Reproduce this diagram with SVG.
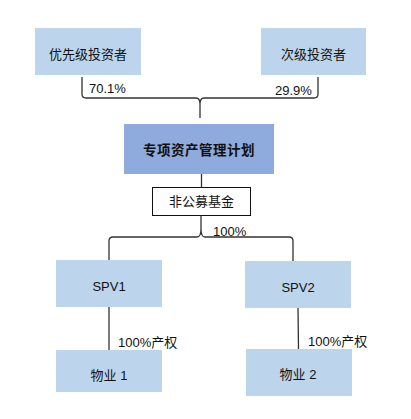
<svg xmlns="http://www.w3.org/2000/svg" width="411" height="419" viewBox="0 0 411 419">
<style>
text{font-family:"Liberation Sans","Noto Sans CJK SC",sans-serif;font-size:13px;fill:#111}
.c{text-anchor:middle}
.lb{fill:#BDD5EC}
.conn{fill:none;stroke:#333;stroke-width:1.3}
</style>
<rect width="411" height="419" fill="#fff"/>
<g id="senior"><rect class="lb" x="35" y="28" width="106" height="47"/><text class="c" x="88" y="59">优先级投资者</text></g>
<g id="junior"><rect class="lb" x="261" y="28" width="105" height="47"/><text class="c" x="313.5" y="59">次级投资者</text></g>
<g id="plan"><rect x="124" y="124" width="150" height="50" fill="#8FAADC"/><text class="c" x="199" y="155" style="font-weight:bold;font-size:13.5px;letter-spacing:0.5px">专项资产管理计划</text></g>
<g id="fund"><rect x="152.5" y="187.5" width="98" height="28" fill="#fff" stroke="#111" stroke-width="1"/><text class="c" x="201.5" y="206">非公募基金</text></g>
<g id="spv1"><rect class="lb" x="56" y="260" width="106" height="47"/><text class="c" x="109" y="291">SPV1</text></g>
<g id="spv2"><rect class="lb" x="245" y="261" width="106" height="47"/><text class="c" x="298" y="292">SPV2</text></g>
<g id="prop1"><rect class="lb" x="56" y="350" width="106" height="42"/><text class="c" x="109" y="380">物业 1</text></g>
<g id="prop2"><rect class="lb" x="246" y="349" width="106" height="47"/><text class="c" x="298" y="379">物业 2</text></g>
<g id="connectors">
<path class="conn" d="M82,77 L82,94 Q82,98 86,98 L196,98 Q200,98 200,104 L200,118 M200,104 Q200,98 204,98 L314,98 Q318,98 318,94 L318,77"/>
<path class="conn" d="M201.5,174 L201.5,187.5"/>
<text x="213" y="236">100%</text>
<path class="conn" d="M201,215.5 L201,229 Q201,237 197,237 L113,237 Q109,237 109,241 L109,260 M201,229 Q201,237 205,237 L289,237 Q293,237 293,241 L293,261"/>
<path class="conn" d="M109,307 L109,350"/>
<path class="conn" d="M298,308 L298.5,349"/>
<text x="89" y="93">70.1%</text>
<text x="275" y="95">29.9%</text>
<text x="118" y="347">100%产权</text>
<text x="308" y="346">100%产权</text>
</g>
</svg>
